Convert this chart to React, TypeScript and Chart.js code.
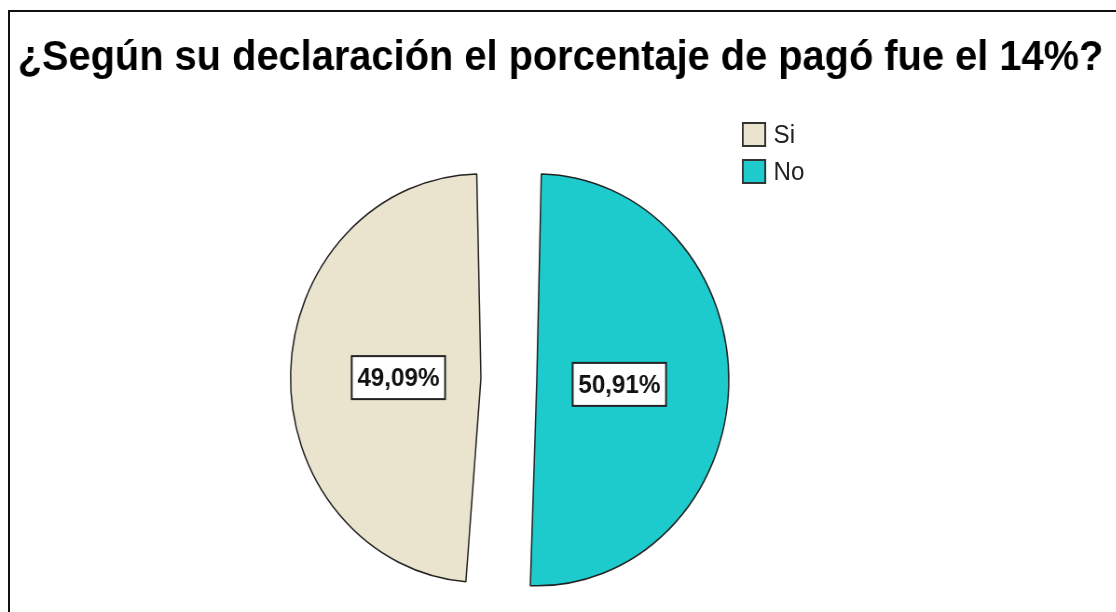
import React, { useEffect, useRef } from 'react';
import { Chart, registerables } from 'chart.js';

Chart.register(...registerables);

const chartTitle = '¿Según su declaración el porcentaje de pagó fue el 14%?';
const categories = ['Si', 'No'];
const percentages = [49.09, 50.91];
const valueLabels = ['49,09%', '50,91%'];
const sliceColors = ['#EAE3CE', '#1ECBCC'];

const X_SCALE = 0.932;
const CANVAS_W = 1200;
const CANVAS_H = 612;
const SLICE_SHIFT = 30; // actual px shift of each exploded slice (Chart.js uses offset / 4)
const FONT = '"Liberation Sans", Arimo, Arial, sans-serif';

const titleText = {
  id: 'titleText',
  afterDraw(chart: any) {
    const ctx = chart.ctx;
    ctx.save();
    ctx.font = `bold 42.7px ${FONT}`;
    ctx.fillStyle = '#000000';
    ctx.textAlign = 'left';
    ctx.textBaseline = 'middle';
    ctx.fillText(chartTitle, 19, 58);
    ctx.restore();
  },
};

const boxedLabels = {
  id: 'boxedLabels',
  afterDatasetsDraw(chart: any) {
    const ctx = chart.ctx;
    const meta = chart.getDatasetMeta(0);
    meta.data.forEach((arc: any, i: number) => {
      const p = arc.getProps(['x', 'y', 'startAngle', 'endAngle', 'outerRadius'], true);
      const mid = (p.startAngle + p.endAngle) / 2;
      const r = SLICE_SHIFT + 0.43 * (p.outerRadius + SLICE_SHIFT);
      const x = p.x + Math.cos(mid) * r;
      const y = p.y + Math.sin(mid) * r + 2;
      const text = valueLabels[i];
      ctx.save();
      ctx.font = `bold 26px ${FONT}`;
      const w = ctx.measureText(text).width + 12;
      const h = 43;
      ctx.fillStyle = '#ffffff';
      ctx.fillRect(x - w / 2, y - h / 2, w, h);
      ctx.lineWidth = 2;
      ctx.strokeStyle = '#222222';
      ctx.strokeRect(x - w / 2, y - h / 2, w, h);
      ctx.fillStyle = '#111111';
      ctx.textAlign = 'center';
      ctx.textBaseline = 'middle';
      ctx.fillText(text, x, y + 1);
      ctx.restore();
    });
  },
};

export default function App() {
  const canvasRef = useRef<HTMLCanvasElement | null>(null);

  useEffect(() => {
    if (!canvasRef.current) return;
    const chart = new Chart(canvasRef.current, {
      type: 'pie',
      data: {
        labels: categories,
        datasets: [
          {
            data: percentages,
            backgroundColor: sliceColors,
            borderColor: '#222222',
            borderWidth: 1.5,
            offset: SLICE_SHIFT * 4,
            hoverOffset: 0,
            radius: 176,
            clip: false,
          } as any,
        ],
      },
      options: {
        responsive: false,
        animation: false,
        rotation: (360 * percentages[1]) / 100,
        layout: { padding: { left: 19, right: 127, top: 146, bottom: 0 } },
        plugins: {
          legend: { display: false },
          tooltip: { enabled: false },
          title: { display: false },
        },
      } as any,
      plugins: [boxedLabels, titleText],
    });
    return () => chart.destroy();
  }, []);

  return (
    <div style={{ position: 'fixed', inset: 0, background: '#ffffff', overflow: 'hidden' }}>
      <div
        style={{
          position: 'absolute',
          left: 8,
          top: 10,
          width: 2000,
          height: 2000,
          borderTop: '2px solid #111',
          borderLeft: '2px solid #111',
        }}
      />
      <div
        style={{
          position: 'absolute',
          left: 0,
          top: 0,
          width: CANVAS_W,
          height: CANVAS_H,
          transform: `scaleX(${X_SCALE})`,
          transformOrigin: '0 0',
        }}
      >
        <canvas ref={canvasRef} width={CANVAS_W} height={CANVAS_H} />
        <div style={{ position: 'absolute', left: 796, top: 122, fontFamily: FONT, fontSize: 26, color: '#222' }}>
          {categories.map((c, i) => (
            <div key={c} style={{ display: 'flex', alignItems: 'center', height: 25, marginBottom: 12 }}>
              <span
                style={{
                  display: 'inline-block',
                  width: 26,
                  height: 25,
                  boxSizing: 'border-box',
                  background: sliceColors[i],
                  border: '2px solid #333',
                  marginRight: 8,
                }}
              />
              <span style={{ lineHeight: '25px' }}>{c}</span>
            </div>
          ))}
        </div>
      </div>
    </div>
  );
}
